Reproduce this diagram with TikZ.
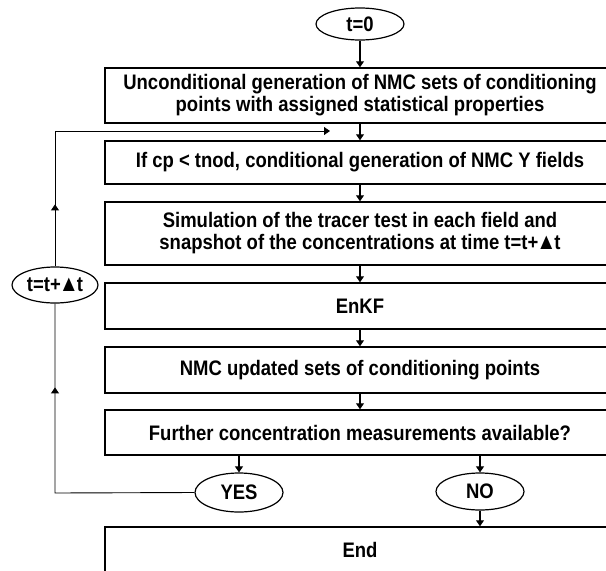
\documentclass[tikz,border=0pt]{standalone}
\usepackage{fontspec}
\setmainfont{Liberation Sans}[FakeStretch=0.88]
\usetikzlibrary{shapes.geometric,arrows.meta,decorations.markings}
\newcommand{\tri}{\kern-2pt\smash{\fontsize{23}{22}\selectfont ▲}\kern-2pt}
\begin{document}
\begin{tikzpicture}[x=1pt,y=-1pt,
  font=\fontsize{21}{22}\selectfont\bfseries,
  box/.style={draw,line width=1.5pt,minimum width=510pt,inner sep=0pt,align=center},
  oval/.style={draw,ellipse,line width=1.2pt,minimum width=88pt,inner sep=0pt},
  arr/.style={line width=1.1pt,-{Triangle[length=6pt,width=8pt]}},
  loopline/.style={line width=0.9pt},
  midarrow/.style={postaction={decorate},decoration={markings,mark=at position #1 with {\arrow{Triangle[length=6pt,width=8pt]}}}}]
\useasboundingbox (0,0) rectangle (606,571);
\clip (0,0) rectangle (606,571);
\node[oval,minimum height=32pt] (t0) at (360,24) {t=0};
\node[box,minimum height=55pt] (b1) at (360,95.5) {Unconditional generation of NMC sets of conditioning\\points with assigned statistical properties};
\node[box,minimum height=43pt] (b2) at (360,162.5) {If cp < tnod, conditional generation of NMC Y fields};
\node[box,minimum height=63pt] (b3) at (360,233.5) {Simulation of the tracer test in each field and\\snapshot of the concentrations at time t=t+\tri t};
\node[box,minimum height=46pt] (b4) at (360,306) {EnKF};
\node[box,minimum height=46pt] (b5) at (360,370) {NMC updated sets of conditioning points};
\node[box,minimum height=45pt] (b6) at (360,432.5) {Further concentration measurements available?};
\node[oval,minimum height=39pt] (yes) at (239,492.5) {YES};
\node[oval,minimum height=37pt] (no) at (480,491.5) {NO};
\node[box,minimum height=46pt] (end) at (360,550) {End};
\node[oval,minimum width=86pt,minimum height=36pt] (tl) at (55,285) {t=t+\tri t};
\coordinate (corner1) at (55,493);
\coordinate (corner2) at (55,131);
\coordinate (join) at (330,131);
\draw[arr] (t0.south) -- (b1.north);
\draw[arr] (b1.south) -- (b2.north);
\draw[arr] (b2.south) -- (b3.north);
\draw[arr] (b3.south) -- (b4.north);
\draw[arr] (b4.south) -- (b5.north);
\draw[arr] (b5.south) -- (b6.north);
\draw[arr] (yes.north |- b6.south) -- (yes.north);
\draw[arr] (no.north |- b6.south) -- (no.north);
\draw[arr] (no.south) -- (no.south |- end.north);
\draw[loopline,midarrow=245pt] (yes.west) -- (corner1) -- (tl.south);
\draw[loopline,midarrow=62pt] (tl.north) -- (corner2);
\draw[loopline,-{Triangle[length=6pt,width=8pt]}] (corner2) -- (join);
\end{tikzpicture}
\end{document}
